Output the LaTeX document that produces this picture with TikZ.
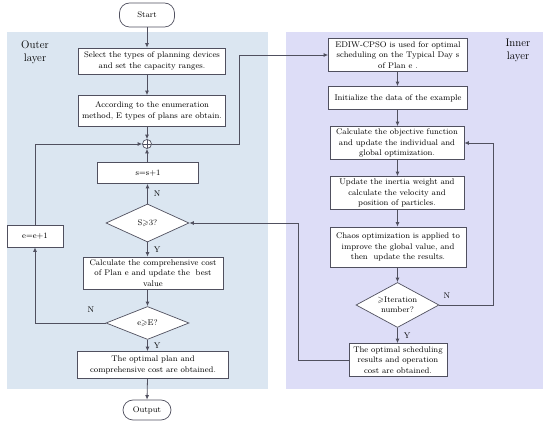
\documentclass[tikz,border=0pt]{standalone}
\usepackage{amssymb}
\usetikzlibrary{shapes.geometric,arrows.meta}
\definecolor{outerbg}{RGB}{219,230,241}
\definecolor{innerbg}{RGB}{221,221,247}
\definecolor{lncol}{RGB}{80,80,95}
\tikzset{
  box/.style={draw=lncol,line width=0.7pt,fill=white,inner sep=1pt,align=center,font=\fontsize{8.2}{10.4}\selectfont},
  term/.style={box,rounded corners=10pt},
  dia/.style={draw=lncol,line width=0.7pt,fill=white,diamond,aspect=1.8,inner sep=0pt,align=center,font=\fontsize{8.2}{10.4}\selectfont},
  conn/.style={draw=lncol,line width=0.8pt,-{Latex[length=4.5pt,width=4pt]}},
  plain/.style={draw=lncol,line width=0.8pt},
  lbl/.style={font=\fontsize{8.2}{10}\selectfont,inner sep=0pt},
  layer/.style={font=\fontsize{11}{13}\selectfont,align=center,inner sep=0pt}
}
\begin{document}
\begin{tikzpicture}[x=1pt,y=-1pt]
\useasboundingbox (0,0) rectangle (550,430);
% backgrounds
\fill[outerbg] (7,32) rectangle (268,389);
\fill[innerbg] (286,32) rectangle (543,389);
\node[layer] (outerlbl) at (35,52) {Outer\\layer};
\node[layer] (innerlbl) at (518,50) {Inner\\layer};
% outer nodes
\node[term,minimum width=55pt,minimum height=24pt] (start) at (147,15) {Start};
\node[box,minimum width=147pt,minimum height=26pt] (b1) at (152,61) {Select the types of planning devices\\and set the capacity ranges.};
\node[box,minimum width=147pt,minimum height=31pt] (b2) at (152,111) {According to the enumeration\\method, E types of plans are obtain.};
\node[circle,draw=lncol,line width=0.7pt,fill=white,minimum size=9pt,inner sep=0pt,
  path picture={\draw[lncol,line width=0.6pt] (path picture bounding box.north) -- (path picture bounding box.south) (path picture bounding box.west) -- (path picture bounding box.east);}] (plus) at (147,144) {};
\node[box,minimum width=101pt,minimum height=21pt] (b3) at (148,173) {s=s+1};
\node[dia,minimum width=83pt,minimum height=38pt] (d1) at (147.5,223) {S$\geqslant$3?};
\node[box,minimum width=56pt,minimum height=22pt] (ee) at (35,236) {e=e+1};
\node[box,minimum width=140pt,minimum height=32pt] (b4) at (153,273) {Calculate the comprehensive cost\\of Plan e and update the\ \ best\\value};
\node[dia,minimum width=83pt,minimum height=33pt] (d2) at (147.5,323) {e$\geqslant$E?};
\node[box,minimum width=151pt,minimum height=27pt] (b5) at (153,365) {The optimal plan and\\comprehensive cost are obtained.};
\node[term,minimum width=48pt,minimum height=20pt] (out) at (147,410) {Output};
% inner nodes
\node[box,minimum width=139pt,minimum height=33pt] (i1) at (398,55) {EDIW-CPSO is used for optimal\\scheduling on the Typical Day s\\of Plan e .};
\node[box,minimum width=139pt,minimum height=23pt] (i2) at (398,98) {Initialize the data of the example};
\node[box,minimum width=134pt,minimum height=33pt] (i3) at (397,143) {Calculate the objective function\\and update the individual and\\global optimization.};
\node[box,minimum width=134pt,minimum height=33pt] (i4) at (397,193) {Update the inertia weight and\\calculate the velocity and\\position of particles.};
\node[box,minimum width=136pt,minimum height=40pt] (i5) at (398,247) {Chaos optimization is applied to\\improve the global value, and\\then\ \ update the results.};
\node[dia,minimum width=83pt,minimum height=45pt] (d3) at (397.5,305) {$\geqslant$Iteration\\number?};
\node[box,minimum width=98pt,minimum height=33pt] (i6) at (398,360) {The optimal scheduling\\results and operation\\cost are obtained.};
% helper coordinates
\coordinate (rx) at (239,0);
\coordinate (lx) at (298,0);
\coordinate (nx) at (493,0);
% outer connectors
\draw[conn] (start) -- (start |- b1.north);
\draw[conn] (start |- b1.south) -- (start |- b2.north);
\draw[conn] (start |- b2.south) -- (plus.north);
\draw[conn] (plus |- b3.north) -- (plus.south);
\draw[conn] (d1.north) -- (d1 |- b3.south) node[lbl,pos=0.5,right=6pt] (n1) {N};
\draw[conn] (d1.south) -- (d1 |- b4.north) node[lbl,pos=0.5,right=6pt] (y1) {Y};
\draw[conn] (d1 |- b4.south) -- (d2.north);
\draw[conn] (d2.south) -- (d2 |- b5.north) node[lbl,pos=0.5,right=6pt] (y2) {Y};
\draw[conn] (d2 |- b5.south) -- (out.north);
\draw[conn] (d2.west) -- (ee |- d2) -- (ee.south);
\node[lbl] (n2) at (91,310) {N};
\draw[conn] (ee.north) -- (ee |- plus) -- (plus.west);
\draw[conn] (plus.east) -- (rx |- plus) -- (rx |- i1) -- (i1.west);
% inner connectors
\draw[conn] (d3 |- i1.south) -- (d3 |- i2.north);
\draw[conn] (d3 |- i2.south) -- (d3 |- i3.north);
\draw[conn] (d3 |- i3.south) -- (d3 |- i4.north);
\draw[conn] (d3 |- i4.south) -- (d3 |- i5.north);
\draw[conn] (d3 |- i5.south) -- (d3.north);
\draw[conn] (d3.south) -- (d3 |- i6.north) node[lbl,pos=0.5,right=6pt] (y3) {Y};
\draw[conn] (d3.east) -- (nx |- d3) -- (nx |- i3) -- (i3.east);
\node[lbl] (n3) at (447,296) {N};
\draw[conn] (i6.west) -- (lx |- i6) -- (lx |- d1) -- (d1.east);
\end{tikzpicture}
\end{document}
